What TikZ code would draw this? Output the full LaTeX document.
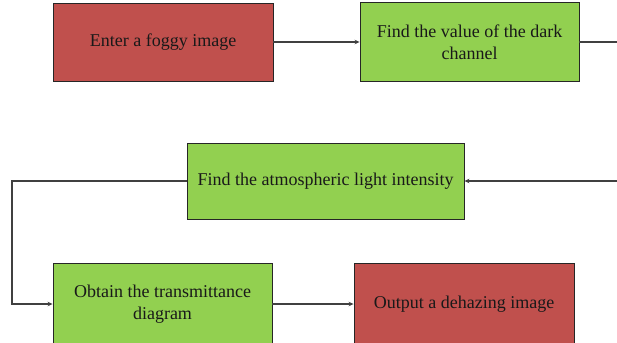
\documentclass[tikz,border=0pt]{standalone}
\usepackage{fontspec}
\setmainfont{Liberation Serif}
\usetikzlibrary{arrows.meta}
\definecolor{boxred}{HTML}{C0504D}
\definecolor{boxgreen}{HTML}{92D050}
\definecolor{linegray}{HTML}{404040}
\begin{document}
\begin{tikzpicture}[x=1pt,y=-1pt,
  box/.style={draw=black!85, line width=0.9pt, inner sep=0pt, align=center,
    font=\fontsize{18}{22}\selectfont, text=black!90},
  redbox/.style={box, fill=boxred},
  greenbox/.style={box, fill=boxgreen},
  conn/.style={draw=linegray, line width=1.1pt},
  arr/.style={conn, -{Stealth[length=5pt,width=4.5pt]}}]
\useasboundingbox (0,0) rectangle (617,342);
\clip (0,0) rectangle (617,342);
\node[redbox, minimum width=220pt, minimum height=78pt] (in) at (163,42) {Enter a foggy image};
\node[greenbox, minimum width=219pt, minimum height=79pt] (dark) at (469.5,42) {Find the value of the dark\\channel};
\node[greenbox, minimum width=277pt, minimum height=76pt] (atm) at (325.5,181) {Find the atmospheric light intensity};
\node[greenbox, minimum width=219pt, minimum height=82pt] (trans) at (162.5,304) {Obtain the transmittance\\diagram};
\node[redbox, minimum width=220pt, minimum height=82pt] (out) at (464,304) {Output a dehazing image};
\coordinate (r1) at (625,42);
\coordinate (r2) at (625,181);
\coordinate (l1) at (12,181);
\coordinate (l2) at (12,304);
\draw[arr] (in.east) -- (dark.west);
\draw[arr] (dark.east) -- (r1) -- (r2) -- (atm.east);
\draw[arr] (atm.west) -- (l1) -- (l2) -- (trans.west);
\draw[arr] (trans.east) -- (out.west);
\end{tikzpicture}
\end{document}
